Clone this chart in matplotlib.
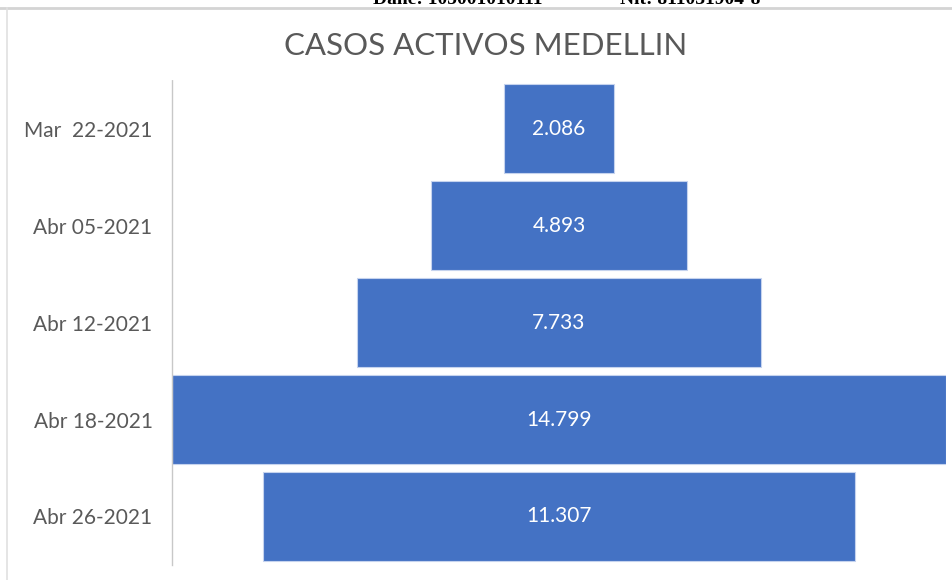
import numpy as np
import matplotlib
matplotlib.use("Agg")
import matplotlib.pyplot as plt
from matplotlib.lines import Line2D

# data
fechas = ["Mar  22-2021", "Abr 05-2021", "Abr 12-2021", "Abr 18-2021", "Abr 26-2021"]
casos = [2086, 4893, 7733, 14799, 11307]
titulo = "CASOS ACTIVOS MEDELLIN"
encabezado = ["Dane: 105001010111", "Nit: 811031904-8"]

plt.rcParams['font.family'] = ['Lato', 'DejaVu Sans']

W, H = 953, 580
fig = plt.figure(figsize=(W / 100, H / 100), dpi=100)

ax = fig.add_axes([172 / W, 1 - 565 / H, 774 / W, 485 / H])

y = np.arange(len(casos))
vals = np.array(casos)
ax.barh(y, vals, left=-vals / 2, height=0.91, color='#4472C4',
        edgecolor='#c5d3ee', linewidth=0.8)

for yi, v in zip(y, casos):
    etiqueta = f"{v:,}".replace(",", ".")
    ax.text(0, yi, etiqueta, ha='center', va='center', color='white', fontsize=15)

m = max(casos) / 2
ax.set_xlim(-m, m)
ax.set_ylim(len(casos) - 0.5, -0.5)
ax.set_yticks(y)
ax.set_yticklabels(fechas, fontsize=15, color='#595959')
ax.tick_params(axis='y', length=0, pad=14)
ax.set_xticks([])
for s in ['top', 'right', 'bottom']:
    ax.spines[s].set_visible(False)
ax.spines['left'].set_color('#c8c8c8')
ax.spines['left'].set_linestyle((0, (4, 1)))
ax.spines['left'].set_linewidth(1.0)
ax.patch.set_alpha(0)

fig.text(486 / W, 1 - 46 / H, titulo, ha='center', va='center',
         fontsize=22.5, color='#595959')

# cut-off document header and frame
fig.text(373 / W, 1 - 4 / H, encabezado[0], ha='left', va='baseline',
         fontsize=14, weight='bold', family='Liberation Serif')
fig.text(620 / W, 1 - 4 / H, encabezado[1], ha='left', va='baseline',
         fontsize=14, weight='bold', family='Liberation Serif')
fig.add_artist(Line2D([0, 1], [1 - 8 / H, 1 - 8 / H], transform=fig.transFigure,
                      color='#d4d4d4', linewidth=2))
fig.add_artist(Line2D([7 / W, 7 / W], [0, 1 - 8 / H], transform=fig.transFigure,
                      color='#e0e0e0', linewidth=1.2))

fig.savefig("out.png", dpi=100)
